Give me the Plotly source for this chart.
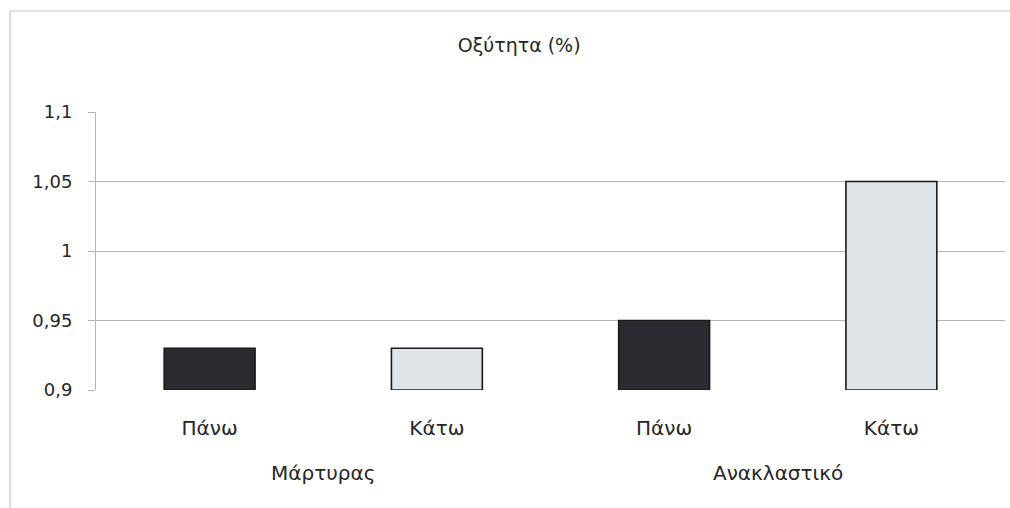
import plotly.graph_objects as go

# Acidity measurements per group and position
groups = ["Μάρτυρας", "Μάρτυρας", "Ανακλαστικό", "Ανακλαστικό"]
positions = ["Πάνω", "Κάτω", "Πάνω", "Κάτω"]
values = [0.93, 0.93, 0.95, 1.05]
bar_colors = ["#2b2a31", "#dfe4e8", "#2b2a31", "#dfe4e8"]

y_ticks = [0.9, 0.95, 1.0, 1.05, 1.1]
y_tick_text = ["0,9", "0,95", "1", "1,05", "1,1"]
group_names = ["Μάρτυρας", "Ανακλαστικό"]

x_pos = list(range(len(values)))
text_color = "#262626"
font_family = "DejaVu Sans, Verdana, sans-serif"

fig = go.Figure()
fig.add_trace(go.Bar(
    x=x_pos,
    y=[v - y_ticks[0] for v in values],
    base=y_ticks[0],
    width=0.4,
    marker=dict(color=bar_colors, line=dict(color="#1a1a1a", width=1.6)),
    hoverinfo="skip",
))

# Group captions centred under each pair of bars
for i, name in enumerate(group_names):
    fig.add_annotation(
        x=(x_pos[2 * i] + x_pos[2 * i + 1]) / 2, xref="x",
        y=-0.3, yref="paper", yanchor="middle",
        text=name, showarrow=False,
        font=dict(size=20, color=text_color, family=font_family),
    )

# Chart frame (left and top edges)
frame = dict(color="#c4c4c4", width=1.2)
fig.add_shape(type="line", xref="paper", yref="paper",
              x0=-0.0946, x1=-0.0946, y0=1.3633, y1=-0.45, line=frame)
fig.add_shape(type="line", xref="paper", yref="paper",
              x0=-0.0946, x1=1.02, y0=1.3633, y1=1.3633, line=frame)

fig.update_layout(
    width=1010, height=508,
    margin=dict(l=96, r=5, t=112, b=118),
    paper_bgcolor="white", plot_bgcolor="white",
    showlegend=False,
    font=dict(family=font_family, size=18, color=text_color),
    title=dict(text="Οξύτητα (%)", x=0.514, xanchor="center",
               y=1 - 45 / 508, yanchor="middle",
               font=dict(size=19, color=text_color, family=font_family)),
    xaxis=dict(
        range=[-0.5, len(values) - 0.5],
        tickvals=x_pos, ticktext=positions,
        showgrid=False, zeroline=False, showline=False,
        ticks="", ticklabelstandoff=24,
        tickfont=dict(size=20),
    ),
    yaxis=dict(
        range=[y_ticks[0], y_ticks[-1]],
        tickvals=y_ticks, ticktext=y_tick_text,
        showgrid=True, gridcolor="#b4b4b4", gridwidth=1,
        zeroline=False, showline=True, linecolor="#b4b4b4", linewidth=1,
        ticks="outside", ticklen=7, tickcolor="#b4b4b4",
        ticklabelstandoff=12,
        tickfont=dict(size=18),
    ),
)

fig.write_html("out.html")
